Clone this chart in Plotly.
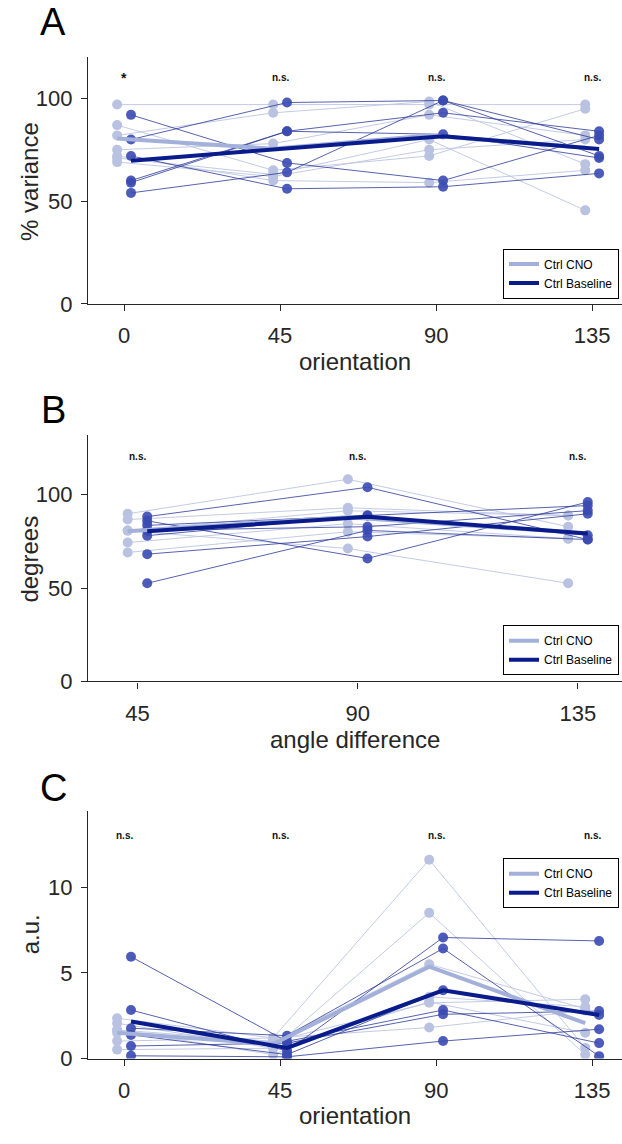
import plotly.graph_objects as go

# ---------------- data ----------------
orient = [0, 45, 90, 135]
angle_diff = [45, 90, 135]

# Panel A: % variance per animal (rows = animals, cols = orientation)
A_cno = [
    [97, 97, 97, 97],
    [87, 65, 72, 95],
    [82, 93, 98.5, 68],
    [75, 78, 92, 82],
    [72, 60, 59, 65],
    [71, 63, 80, 45.5],
    [69, 62, 75, 80],
]
A_base = [
    [92, 68.6, 60, 82],
    [80, 98, 99, 80],
    [72, 56, 57, 63.5],
    [59, 84, 82.5, 71],
    [54, 64, 99, 72],
    [60, 84, 93, 84],
]
A_cno_mean = [80.5, 75.5, 82, 76]
A_base_mean = [69.7, 75.6, 81.6, 75.4]
A_sig = ["*", "n.s.", "n.s.", "n.s."]

# Panel B: degrees per animal (cols = angle difference)
B_cno = [
    [89.8, 108.3, 82.9],
    [86.7, 93, 88.9],
    [80.8, 91.4, 88.9],
    [74.4, 84.5, 76.5],
    [69.1, 80.2, 76.5],
    [80.8, 71.2, 52.6],
]
B_base = [
    [88.3, 104, 76],
    [86, 65.9, 96.1],
    [83.6, 88.9, 94.2],
    [80.9, 82.9, 91.5],
    [78.1, 88.9, 78.3],
    [68.2, 77.6, 89.8],
    [52.6, 80.9, 76],
]
B_cno_mean = [80.5, 88, 80]
B_base_mean = [80.4, 88.2, 79.2]
B_sig = ["n.s.", "n.s.", "n.s."]

# Panel C: a.u. per animal (cols = orientation)
C_cno = [
    [2.35, 1.2, 11.6, 0.62],
    [2.06, 0.6, 8.5, 0.23],
    [1.67, 1.0, 3.25, 3.46],
    [1.67, 0.23, 3.6, 3.02],
    [1.02, 1.2, 1.81, 2.8],
    [0.52, 0.6, 3.3, 1.5],
    [1.5, 1.0, 5.5, 2.9],
]
C_base = [
    [5.94, 1.0, 2.83, 0.9],
    [2.83, 0.44, 7.06, 6.86],
    [1.77, 1.33, 6.42, 0.14],
    [1.38, 0.23, 3.98, 2.54],
    [0.73, 0.9, 2.58, 2.77],
    [0.16, 0.1, 1.02, 1.71],
]
C_cno_mean = [1.5, 0.85, 5.36, 2.06]
C_base_mean = [2.16, 0.62, 3.98, 2.54]
C_sig = ["n.s.", "n.s.", "n.s.", "n.s."]

# ---------------- style ----------------
FONT = "Liberation Sans, Arial, sans-serif"
AX = "#262626"
LIGHT_PT = "#B9C3E1"
LIGHT_LN = "#BCC5E2"
DARK_PT = "#3A4AB2"
DARK_LN = "#2C3A98"
LIGHT_MEAN = "#A3B1DA"
DARK_MEAN = "#0A1B8C"
DX = 2  # horizontal jitter between groups

W, H = 622, 1144

fig = go.Figure()

panels = [
    dict(x=orient, cno=A_cno, base=A_base, cm=A_cno_mean, bm=A_base_mean,
         sig=A_sig, xa="x", ya="y", leg="legend", sigy=110),
    dict(x=angle_diff, cno=B_cno, base=B_base, cm=B_cno_mean, bm=B_base_mean,
         sig=B_sig, xa="x2", ya="y2", leg="legend2", sigy=120.5),
    dict(x=orient, cno=C_cno, base=C_base, cm=C_cno_mean, bm=C_base_mean,
         sig=C_sig, xa="x3", ya="y3", leg="legend3", sigy=13.0),
]

annotations = []
for p in panels:
    xl = [v - DX for v in p["x"]]
    xr = [v + DX for v in p["x"]]
    for row in p["cno"]:
        fig.add_trace(go.Scatter(
            x=xl, y=row, mode="lines+markers", xaxis=p["xa"], yaxis=p["ya"],
            line=dict(color=LIGHT_LN, width=0.9),
            marker=dict(color=LIGHT_PT, size=10, line=dict(width=0)),
            showlegend=False, hoverinfo="skip"))
    for row in p["base"]:
        fig.add_trace(go.Scatter(
            x=xr, y=row, mode="lines+markers", xaxis=p["xa"], yaxis=p["ya"],
            line=dict(color=DARK_LN, width=0.8),
            marker=dict(color=DARK_PT, size=10, line=dict(width=0), opacity=0.9),
            showlegend=False, hoverinfo="skip"))
    fig.add_trace(go.Scatter(
        x=xl, y=p["cm"], mode="lines", xaxis=p["xa"], yaxis=p["ya"],
        line=dict(color=LIGHT_MEAN, width=4), name="Ctrl CNO",
        legend=p["leg"], showlegend=True))
    fig.add_trace(go.Scatter(
        x=xr, y=p["bm"], mode="lines", xaxis=p["xa"], yaxis=p["ya"],
        line=dict(color=DARK_MEAN, width=4), name="Ctrl Baseline",
        legend=p["leg"], showlegend=True))
    for xv, s in zip(p["x"], p["sig"]):
        annotations.append(dict(
            x=xv, y=p["sigy"], xref=p["xa"], yref=p["ya"],
            text="<b>" + s + "</b>",
            showarrow=False, font=dict(family=FONT, size=10 if s != "*" else 14,
                                       color="#111111"),
            xanchor="center", yanchor="middle"))


def py(pix):
    return (H - pix) / H


def px(pix):
    return pix / W


xdom = [px(88), 1.0]
ydomA = [py(307.3), py(58)]
ydomB = [py(689.3), py(440)]
ydomC = [py(1070.7), py(820)]


def xaxis(rng, ticks, anchor):
    return dict(domain=xdom, range=rng, tickvals=ticks, anchor=anchor,
                showline=True, linecolor=AX, linewidth=1.4, ticks="outside",
                ticklen=6, tickwidth=1.4, tickcolor=AX, showgrid=False,
                zeroline=False, tickfont=dict(family=FONT, size=22, color=AX),
                ticklabelstandoff=6, fixedrange=True)


def yaxis(dom, rng, ticks, anchor):
    return dict(domain=dom, range=rng, tickvals=ticks, anchor=anchor,
                showline=True, linecolor=AX, linewidth=1.4, ticks="outside",
                ticklen=6, tickwidth=1.4, tickcolor=AX, showgrid=False,
                zeroline=False, tickfont=dict(family=FONT, size=22, color=AX),
                ticklabelstandoff=4, fixedrange=True)


# axis titles and panel letters
titles = [
    ("orientation", (88 + 622) / 2, 366, 0),
    ("angle difference", (88 + 622) / 2, 748, 0),
    ("orientation", (88 + 622) / 2, 1128, 0),
    ("% variance", 30, 183, -90),
    ("degrees", 30, 565, -90),
    ("a.u.", 30, 945, -90),
]
for t, x0, y0, ang in titles:
    annotations.append(dict(
        x=px(x0), y=py(y0), xref="paper", yref="paper", text=t,
        showarrow=False, textangle=ang, xanchor="center", yanchor="middle",
        font=dict(family=FONT, size=24, color=AX)))

for t, x0, y0 in [("A", 53, 22), ("B", 53, 415), ("C", 53, 797)]:
    annotations.append(dict(
        x=px(x0), y=py(y0), xref="paper", yref="paper", text=t,
        showarrow=False, xanchor="center", yanchor="middle",
        font=dict(family=FONT, size=38, color="black")))

leg_common = dict(bordercolor="black", borderwidth=1, bgcolor="white",
                  font=dict(family=FONT, size=12, color="black"),
                  itemwidth=30, tracegroupgap=0, xanchor="right")

fig.update_layout(
    width=W, height=H, margin=dict(l=0, r=0, t=0, b=0),
    paper_bgcolor="white", plot_bgcolor="white",
    xaxis=xaxis([-10.4, 143.6], orient, "y"),
    yaxis=yaxis(ydomA, [0, 120], [0, 50, 100], "x"),
    xaxis2=xaxis([34.9, 144], angle_diff, "y2"),
    yaxis2=yaxis(ydomB, [0, 132], [0, 50, 100], "x2"),
    xaxis3=xaxis([-10.4, 143.6], orient, "y3"),
    yaxis3=yaxis(ydomC, [0, 14.46], [0, 5, 10], "x3"),
    legend=dict(x=px(619), y=py(302), yanchor="bottom", **leg_common),
    legend2=dict(x=px(619), y=py(683), yanchor="bottom", **leg_common),
    legend3=dict(x=px(619), y=py(868), yanchor="top", **leg_common),
    annotations=annotations,
    showlegend=True,
)

fig.write_html("out.html")
